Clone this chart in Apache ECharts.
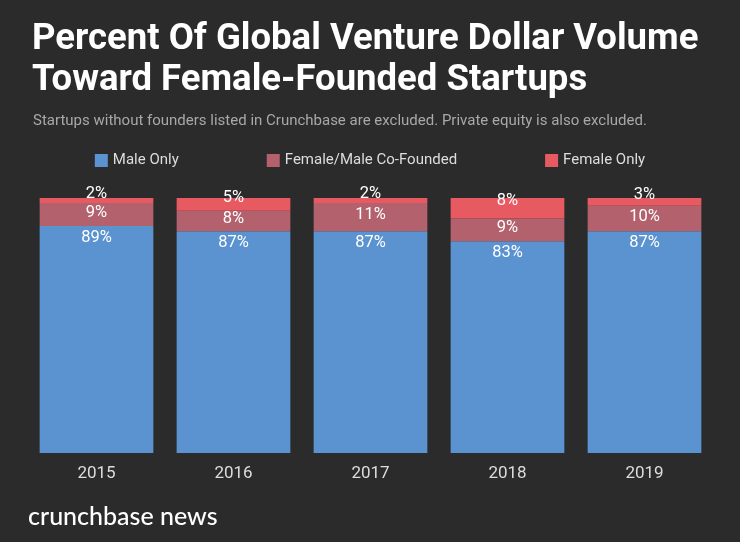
<!DOCTYPE html>
<html>
<head>
<meta charset="utf-8">
<script src="https://cdn.jsdelivr.net/npm/echarts@6/dist/echarts.min.js"></script>
<style>
html,body{margin:0;padding:0;background:#2b2b2b;}
#c{width:740px;height:542px;}
</style>
</head>
<body>
<div id="c"></div>
<script>
const years = ['2015', '2016', '2017', '2018', '2019'];
const maleOnly = [89, 87, 87, 83, 87];
const coFounded = [9, 8, 11, 9, 10];
const femaleOnly = [2, 5, 2, 8, 3];
const seriesNames = ['Male Only', 'Female/Male Co-Founded', 'Female Only'];

const chart = echarts.init(document.getElementById('c'));
const labelBase = {
  show: true, color: '#ffffff', fontSize: 16.5, fontFamily: 'Roboto',
  formatter: p => p.value + '%'
};
chart.setOption({
  backgroundColor: '#2b2b2b',
  animation: false,
  title: [
    {
      text: 'Percent Of Global Venture Dollar Volume\nToward Female-Founded Startups',
      left: 32, top: 19, padding: 0,
      textStyle: { color: '#ffffff', fontSize: 36.5, fontWeight: 'bold', fontFamily: 'Roboto', lineHeight: 41 }
    },
    {
      text: 'Startups without founders listed in Crunchbase are excluded. Private equity is also excluded.',
      left: 33, top: 114, padding: 0,
      textStyle: { color: '#a8a8a8', fontSize: 15, fontWeight: 'normal', fontFamily: 'Roboto' }
    },
    {
      text: 'crunchbase news',
      left: 28, top: 504, padding: 0,
      textStyle: { color: '#ffffff', fontSize: 25, fontWeight: 500, fontFamily: 'Lato' }
    }
  ],
  legend: {
    top: 148, left: 'center', itemGap: 88, itemWidth: 13, itemHeight: 13,
    icon: 'rect',
    textStyle: { color: '#dddddd', fontSize: 15, fontFamily: 'Roboto' },
    data: seriesNames
  },
  grid: { left: 28, right: 27, top: 198, bottom: 89 },
  xAxis: {
    type: 'category', data: years,
    axisLine: { show: false }, axisTick: { show: false },
    axisLabel: { color: '#dddddd', fontSize: 17, fontFamily: 'Roboto', margin: 12 }
  },
  yAxis: { type: 'value', min: 0, max: 100, show: false, splitLine: { show: false } },
  series: [
    {
      name: seriesNames[0], type: 'bar', stack: 'a', data: maleOnly, barCategoryGap: '17%',
      itemStyle: { color: '#5b93d0' },
      label: Object.assign({}, labelBase, { position: 'insideTop', distance: 3 })
    },
    {
      name: seriesNames[1], type: 'bar', stack: 'a', data: coFounded,
      itemStyle: { color: '#b2616d' },
      label: Object.assign({}, labelBase, { position: 'inside', offset: [0, -2] })
    },
    {
      name: seriesNames[2], type: 'bar', stack: 'a', data: femaleOnly,
      itemStyle: { color: '#e85a62' },
      label: Object.assign({}, labelBase, { position: 'inside', offset: [0, -7] })
    }
  ]
});
</script>
</body>
</html>
